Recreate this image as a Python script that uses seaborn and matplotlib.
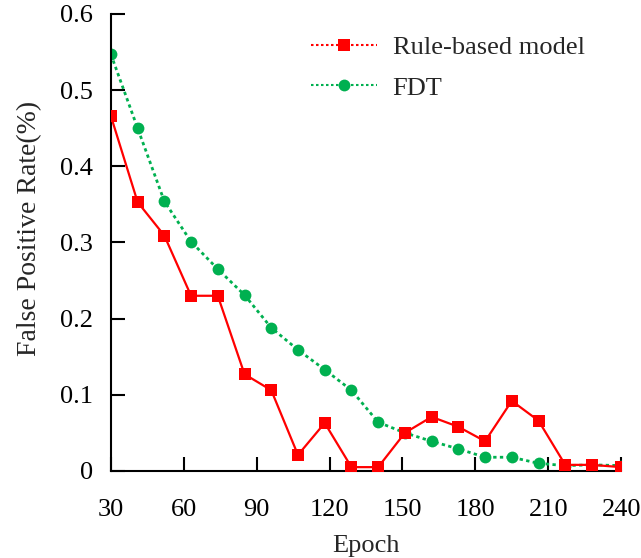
import numpy as np
import pandas as pd
import matplotlib
matplotlib.use("Agg")
import matplotlib.pyplot as plt
from matplotlib.lines import Line2D
import seaborn as sns

epochs = [30, 41, 52, 63, 74, 85, 96, 107, 118, 129, 140, 151, 162, 173, 184, 195, 206, 217, 228, 240]
rule_based = [0.466, 0.353, 0.309, 0.230, 0.230, 0.127, 0.106, 0.021, 0.063, 0.005,
              0.005, 0.050, 0.071, 0.058, 0.039, 0.092, 0.066, 0.008, 0.008, 0.005]
fdt = [0.547, 0.450, 0.354, 0.301, 0.265, 0.231, 0.188, 0.159, 0.133, 0.106,
       0.064, 0.050, 0.039, 0.029, 0.018, 0.018, 0.010, 0.007, 0.008, 0.007]
series_names = ["Rule-based model", "FDT"]
x_ticks = [30, 60, 90, 120, 150, 180, 210, 240]
y_ticks = [0, 0.1, 0.2, 0.3, 0.4, 0.5, 0.6]
y_tick_labels = ["0", "0.1", "0.2", "0.3", "0.4", "0.5", "0.6"]

sns.set_theme(style="ticks")
plt.rcParams['font.family'] = ['Liberation Serif', 'DejaVu Serif']

df_rule = pd.DataFrame({"Epoch": epochs, "FPR": rule_based})
df_fdt = pd.DataFrame({"Epoch": epochs, "FPR": fdt})

fig = plt.figure(figsize=(6.41, 5.58), dpi=100)
ax = fig.add_axes([0.173, 0.156, 0.796, 0.819])

red = "#FF0000"
green = "#00B050"

sns.lineplot(data=df_rule, x="Epoch", y="FPR", ax=ax, color=red, linewidth=1.6,
             marker="s", markersize=8.5, markeredgewidth=0, linestyle="-", zorder=3)
sns.lineplot(data=df_fdt, x="Epoch", y="FPR", ax=ax, color=green, linewidth=2,
             marker="o", markersize=8.5, markeredgewidth=0, linestyle=(0, (1.2, 1.2)), zorder=2)

ax.set_xlim(30, 240)
ax.set_ylim(0, 0.6)
ax.set_xticks(x_ticks)
ax.set_yticks(y_ticks)
ax.set_yticklabels(y_tick_labels)
ax.tick_params(direction="in", length=10, width=1.5, labelsize=19, colors="black")
ax.tick_params(axis="y", pad=13)
ax.tick_params(axis="x", pad=20)
for s in ["top", "right"]:
    ax.spines[s].set_visible(False)
for s in ["left", "bottom"]:
    ax.spines[s].set_linewidth(1.5)
    ax.spines[s].set_color("black")
ax.set_xlabel("Epoch", fontsize=19, labelpad=10)
ax.set_ylabel("False Positive Rate(%)", fontsize=20)
ax.yaxis.set_label_coords(-0.135, 0.53)

handles = [
    Line2D([0], [0], color=red, linestyle=(0, (1.2, 1.2)), linewidth=1.5, marker="s",
           markersize=8.5, markeredgewidth=0),
    Line2D([0], [0], color=green, linestyle=(0, (1.2, 1.2)), linewidth=1.5, marker="o",
           markersize=8.5, markeredgewidth=0),
]
ax.legend(handles, series_names, loc="upper right", bbox_to_anchor=(0.975, 1.005),
          frameon=False, fontsize=19, handlelength=2.5, handletextpad=0.6, labelspacing=0.65)

fig.savefig("out.png", dpi=100)
